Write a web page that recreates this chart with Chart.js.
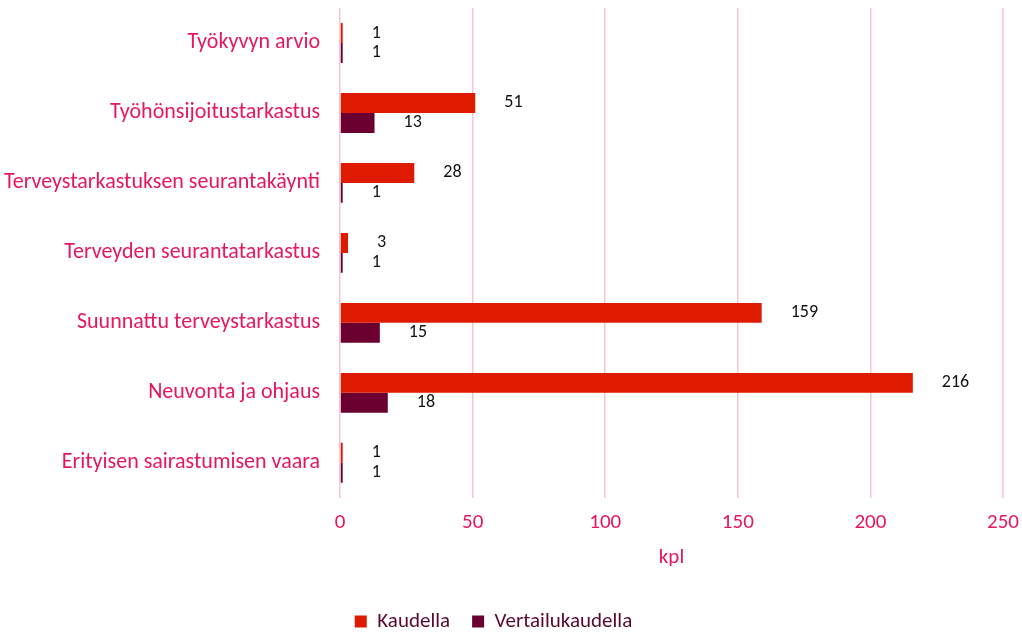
<!DOCTYPE html>
<html>
<head>
<meta charset="utf-8">
<script src="https://cdn.jsdelivr.net/npm/chart.js@4/dist/chart.umd.min.js"></script>
<style>
  html, body { margin: 0; padding: 0; background: #ffffff; }
  #wrap { width: 1022px; height: 633px; }
</style>
</head>
<body>
<div id="wrap"><canvas id="chart" width="1022" height="633"></canvas></div>
<script>
// Chart data
const categories = [
    'Työkyvyn arvio',
    'Työhönsijoitustarkastus',
    'Terveystarkastuksen seurantakäynti',
    'Terveyden seurantatarkastus',
    'Suunnattu terveystarkastus',
    'Neuvonta ja ohjaus',
    'Erityisen sairastumisen vaara'
];
const kaudella = [1, 51, 28, 3, 159, 216, 1];
const vertailukaudella = [1, 13, 1, 1, 15, 18, 1];
const seriesNames = ['Kaudella', 'Vertailukaudella'];
const axisTitle = 'kpl';

const FONT = "Carlito, 'Open Sans', sans-serif";
const PINK = '#E8175D';

// Draw value labels a bit right of each bar end
const valueLabels = {
    id: 'valueLabels',
    afterDatasetsDraw(chart) {
        const ctx = chart.ctx;
        ctx.save();
        ctx.font = '18px ' + FONT;
        ctx.fillStyle = '#111111';
        ctx.textAlign = 'left';
        ctx.textBaseline = 'middle';
        chart.data.datasets.forEach((ds, i) => {
            const meta = chart.getDatasetMeta(i);
            meta.data.forEach((bar, j) => {
                ctx.fillText(String(ds.data[j]), bar.x + 29, bar.y);
            });
        });
        ctx.restore();
    }
};

new Chart(document.getElementById('chart').getContext('2d'), {
    type: 'bar',
    data: {
        labels: categories,
        datasets: [
            {
                label: seriesNames[0],
                data: kaudella,
                backgroundColor: '#DE1A00',
                barPercentage: 1.0,
                categoryPercentage: 0.57
            },
            {
                label: seriesNames[1],
                data: vertailukaudella,
                backgroundColor: '#6B0030',
                barPercentage: 1.0,
                categoryPercentage: 0.57
            }
        ]
    },
    options: {
        indexAxis: 'y',
        responsive: false,
        animation: false,
        layout: { padding: { left: -16, right: 19, top: 8, bottom: -9 } },
        plugins: {
            legend: {
                position: 'bottom',
                labels: {
                    font: { family: FONT, size: 21 },
                    color: '#5A0A2C',
                    boxWidth: 12,
                    boxHeight: 12,
                    padding: 22
                }
            },
            tooltip: { enabled: false }
        },
        scales: {
            x: {
                min: 0,
                max: 250,
                afterFit: function(scale) {
                    scale.paddingLeft = 0;
                    scale.paddingRight = 0;
                },
                ticks: {
                    stepSize: 50,
                    color: PINK,
                    font: { family: FONT, size: 21 },
                    padding: 12
                },
                grid: { color: '#F9C3D4', lineWidth: 1.5, drawTicks: false },
                border: { display: false },
                title: {
                    display: true,
                    text: axisTitle,
                    color: PINK,
                    font: { family: FONT, size: 21, lineHeight: 1 },
                    padding: { top: 0, bottom: 21 }
                }
            },
            y: {
                afterFit: function(scale) {
                    scale.paddingTop = 0;
                    scale.paddingBottom = 0;
                },
                ticks: {
                    color: PINK,
                    font: { family: FONT, size: 22 },
                    padding: 20
                },
                grid: { display: false, drawTicks: false },
                border: { display: false }
            }
        }
    },
    plugins: [valueLabels]
});
</script>
</body>
</html>
